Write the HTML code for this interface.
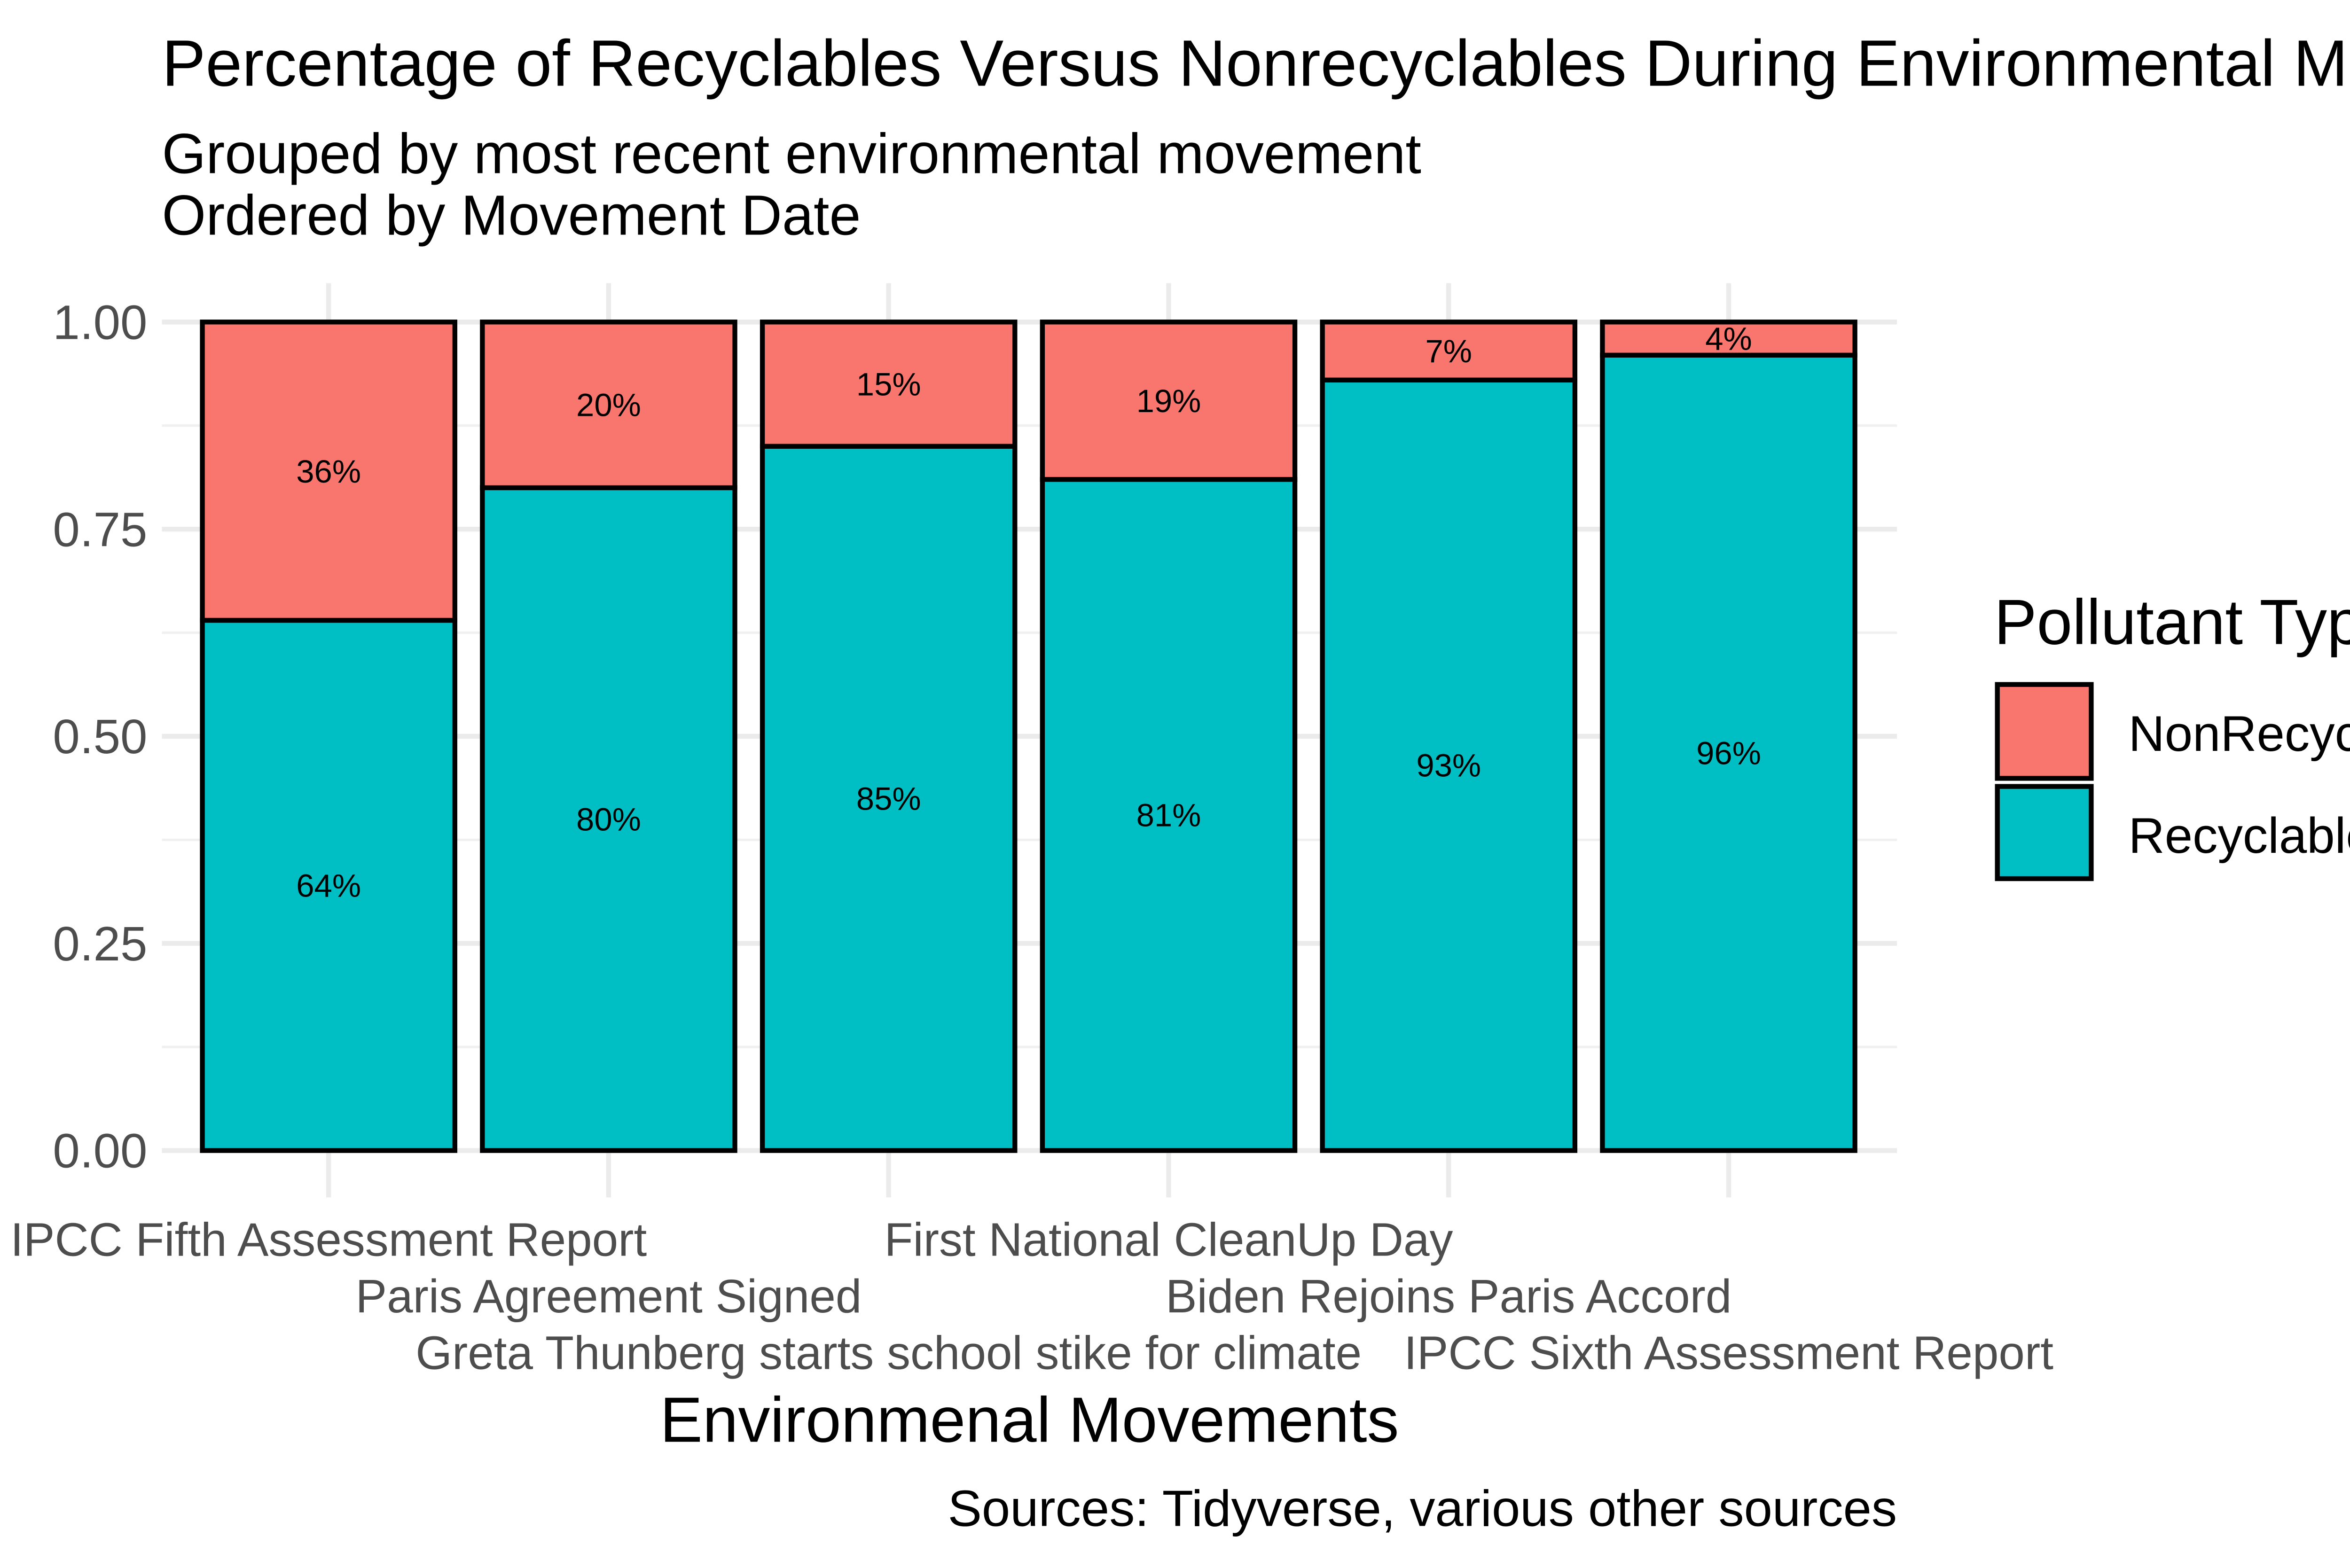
<!DOCTYPE html>
<html><head><meta charset="utf-8"><style>
html,body{margin:0;padding:0;background:#fff;overflow:hidden;}
svg{display:block;font-family:"Liberation Sans",Arial,sans-serif;}
</style></head><body>
<svg id="chart" width="5400" height="3337" viewBox="0 0 1568 969" xmlns="http://www.w3.org/2000/svg">
<rect width="1568" height="969" fill="#fff"/>
<text x="100" y="53" font-size="40.5" fill="#000">Percentage of Recyclables Versus Nonrecyclables During Environmental Movements</text>
<text x="100" y="107" font-size="35" fill="#000">Grouped by most recent environmental movement</text>
<text x="100" y="145" font-size="35" fill="#000">Ordered by Movement Date</text>
<g id="grid"></g>
<g id="bars"></g>
<g id="yaxis"></g>
<g id="xaxis"></g>
<text x="636" y="891" font-size="39.5" text-anchor="middle" fill="#000">Environmenal Movements</text>
<text x="1172" y="943" font-size="31.5" text-anchor="end" fill="#000">Sources: Tidyverse, various other sources</text>
<g>
<text x="1232" y="398" font-size="39.5" fill="#000">Pollutant Type</text>
<rect x="1234" y="423" width="58" height="58" fill="#F8766D" stroke="#000" stroke-width="3"/>
<rect x="1234" y="486" width="58" height="57" fill="#00BFC4" stroke="#000" stroke-width="3"/>
<text x="1315" y="464" font-size="31" fill="#000">NonRecyclable</text>
<text x="1315" y="527" font-size="31" fill="#000">Recyclable</text>
</g>
</svg>
<script>
const categories = ["IPCC Fifth Assessment Report","Paris Agreement Signed","Greta Thunberg starts school stike for climate","First National CleanUp Day","Biden Rejoins Paris Accord","IPCC Sixth Assessment Report"];
const recyclable = [0.64,0.80,0.85,0.81,0.93,0.96];
const nonRecyclable = [0.36,0.20,0.15,0.19,0.07,0.04];
const yTicks = [0,0.25,0.5,0.75,1.0];
const yTickLabels = ["0.00","0.25","0.50","0.75","1.00"];

const NS="http://www.w3.org/2000/svg";
const y0=711,y1=199,x0=203,step=173,bw=156;
const ys=v=>y0+(y1-y0)*v;
const xs=i=>x0+i*step;
function mk(tag,attrs,parent){const e=document.createElementNS(NS,tag);for(const k in attrs)e.setAttribute(k,attrs[k]);parent.appendChild(e);return e;}
const grid=document.getElementById('grid'),bars=document.getElementById('bars'),ya=document.getElementById('yaxis'),xa=document.getElementById('xaxis');
for(let k=0;k<yTicks.length-1;k++){
  const l=mk('line',{x1:100,x2:1172,y1:ys((yTicks[k]+yTicks[k+1])/2),y2:ys((yTicks[k]+yTicks[k+1])/2),stroke:'#f0f0f0','stroke-width':1.5},grid);
  
  
}
yTicks.forEach((t,k)=>{
  const l=mk('line',{x1:100,x2:1172,y1:ys(t),y2:ys(t),stroke:'#ebebeb','stroke-width':3},grid);
  
  
  const tx=mk('text',{x:91,y:ys(t)+10.5,'font-size':30,'text-anchor':'end',fill:'#4d4d4d'},ya);
  tx.textContent=yTickLabels[k];
  
  
});
categories.forEach((c,i)=>{
  const l=mk('line',{x1:xs(i),x2:xs(i),y1:175,y2:740,stroke:'#ebebeb','stroke-width':3},grid);
  
  
});
categories.forEach((c,i)=>{
  const x=xs(i)-bw/2;
  const r=recyclable[i], n=nonRecyclable[i];
  const b1=mk('rect',{x:x,y:ys(r),width:bw,height:ys(0)-ys(r),fill:'#00BFC4',stroke:'#000','stroke-width':3},bars);
  
  
  const b2=mk('rect',{x:x,y:ys(r+n),width:bw,height:ys(r)-ys(r+n),fill:'#F8766D',stroke:'#000','stroke-width':3},bars);
  
  
  const t1=mk('text',{x:xs(i),y:ys(r/2)+7,'font-size':20,'text-anchor':'middle',fill:'#000'},bars);
  t1.textContent=Math.round(r*100)+'%';
  
  
  const t2=mk('text',{x:xs(i),y:ys(r+n/2)+7,'font-size':20,'text-anchor':'middle',fill:'#000'},bars);
  t2.textContent=Math.round(n*100)+'%';
  
  
  const tx=mk('text',{x:xs(i),y:776+(i%3)*35,'font-size':29,'text-anchor':'middle',fill:'#4d4d4d'},xa);
  tx.textContent=c;
  
  
});
</script>
</body></html>
